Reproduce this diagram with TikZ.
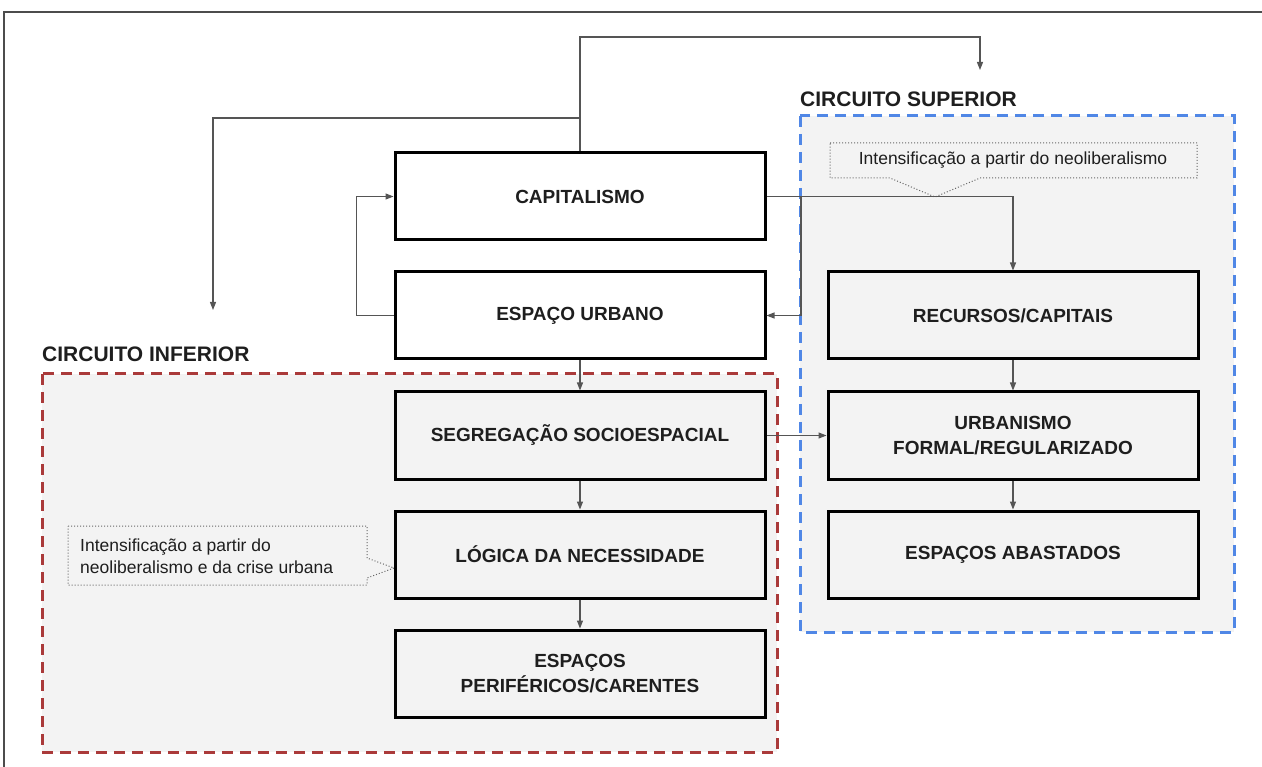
\documentclass[tikz,border=0pt]{standalone}
\usepackage{fontspec}
\setmainfont{Liberation Sans}
\usetikzlibrary{arrows.meta}
\definecolor{regfill}{RGB}{243,243,243}
\definecolor{redd}{RGB}{170,58,58}
\definecolor{blued}{RGB}{80,135,230}
\definecolor{conn}{RGB}{85,85,85}
\definecolor{txt}{RGB}{30,30,30}
\tikzset{
  box/.style={draw=black, line width=3pt, minimum width=370pt, minimum height=87pt,
    align=center, text=txt, font=\fontsize{19}{25}\selectfont\bfseries, inner sep=0pt},
  whitebox/.style={box, fill=white},
  arr/.style={draw=conn, line width=1.2pt, -{Triangle[length=8pt,width=6pt]}},
  callout/.style={draw=gray!80!black, line width=1pt, dotted},
  region/.style={fill=regfill, line width=3pt, dash pattern=on 11pt off 7pt},
  reglabel/.style={anchor=base west, inner sep=0pt, font=\fontsize{21}{25}\selectfont\bfseries, text=txt},
  calltext/.style={inner sep=0pt, text=txt, font=\fontsize{17.5}{22.5}\selectfont}
}
\begin{document}
\begin{tikzpicture}[x=1pt, y=-1pt]
\useasboundingbox (0,0) rectangle (1262,767);
% outer frame
\draw[gray!60!black, line width=1.4pt] (4,767) -- (4,12) -- (1262,12);
% regions
\draw[region, draw=blued] (800,116) rectangle (1234,632);
\draw[region, draw=redd] (42,374) rectangle (777,752);
\node[reglabel] (labsup) at (800,107) {CIRCUITO SUPERIOR};
\node[reglabel] (labinf) at (42,362) {CIRCUITO INFERIOR};
% boxes
\node[whitebox] (cap) at (580,196.5) {CAPITALISMO};
\node[whitebox] (eu) at (580,315.5) {ESPAÇO URBANO};
\node[box] (seg) at (580,435.5) {SEGREGAÇÃO SOCIOESPACIAL};
\node[box] (log) at (580,554.5) {LÓGICA DA NECESSIDADE};
\node[box] (per) at (580,673.5) {ESPAÇOS\\PERIFÉRICOS/CARENTES};
\node[box] (rec) at (1013,315.5) {RECURSOS/CAPITAIS};
\node[box] (urb) at (1013,435.5) {URBANISMO\\FORMAL/REGULARIZADO};
\node[box] (aba) at (1013,554.5) {ESPAÇOS ABASTADOS};
% callouts
\draw[callout] (830,143) -- (1197,143) -- (1197,178) -- (980,178) -- (935,197) -- (890,178) -- (830,178) -- cycle;
\node[calltext] (ct1) at (1013,160.5) {Intensificação a partir do neoliberalismo};
\draw[callout] (68,526) -- (367,526) -- (367,558) -- (394,568) -- (367,578) -- (367,585) -- (68,585) -- cycle;
\node[calltext, anchor=west, align=left] (ct2) at (80,556) {Intensificação a partir do\\neoliberalismo e da crise urbana};
% connectors
\coordinate (topend) at (980,70);
\coordinate (leftend) at (213,310);
\coordinate (split) at (580,118);
\coordinate (j1) at (801,196.5);
\draw[arr] (cap.north) -- (580,37) -| (topend);
\draw[arr] (split) -| (leftend);
\draw[arr] (cap.east) -| (rec.north);
\draw[arr] (j1) |- (eu.east);
\draw[arr] (eu.west) -- ++(-37,0) |- (cap.west);
\draw[arr] (eu.south) -- (seg.north);
\draw[arr] (seg.south) -- (log.north);
\draw[arr] (log.south) -- (per.north);
\draw[arr] (seg.east) -- (urb.west);
\draw[arr] (rec.south) -- (urb.north);
\draw[arr] (urb.south) -- (aba.north);
\end{tikzpicture}
\end{document}
